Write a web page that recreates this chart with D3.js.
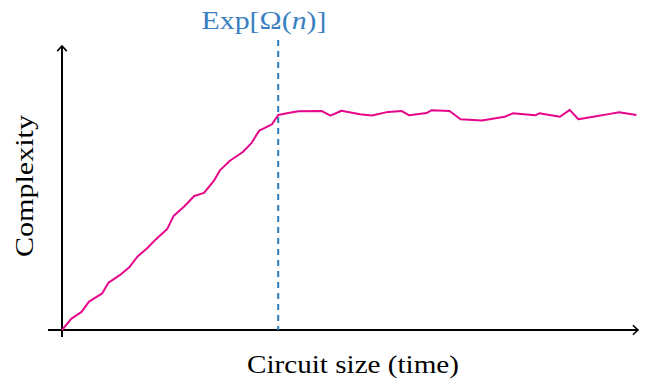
<!DOCTYPE html>
<html>
<head>
<meta charset="utf-8">
<script src="https://cdn.jsdelivr.net/npm/d3@7"></script>
<style>
  body { margin: 0; background: #fff; }
  text { font-family: "Liberation Serif", "DejaVu Serif", serif; }
</style>
</head>
<body>
<div id="chart"></div>
<script>
// circuit size (arbitrary units, 0..100) and complexity (0..100)
var sizes = [0, 1.6, 3.4, 4.7, 7.0, 8.1, 10.1, 11.8, 13.1, 14.8, 16.3, 18.3, 19.4, 21.2, 23.0, 24.7,
  26.5, 27.5, 29.2, 31.4, 32.9, 34.3, 36.5, 37.6, 39.1, 41.1, 45.2, 46.7, 48.6, 51.8, 53.9, 56.7,
  59.1, 60.4, 63.4, 64.3, 67.4, 69.3, 73.0, 77.0, 78.4, 82.3, 83.0, 86.6, 88.3, 89.8, 92.4, 95.3, 96.9, 99.9];
var complexity = [0, 3.9, 6.4, 10.0, 12.9, 16.7, 19.4, 22.3, 25.8, 28.8, 31.9, 35.6, 40.1, 43.4, 47.2, 48.3,
  52.8, 56.3, 59.6, 62.6, 65.7, 70.2, 72.4, 75.7, 76.3, 77.0, 77.1, 75.5, 77.2, 76.0, 75.5, 76.8,
  77.1, 75.6, 76.4, 77.4, 77.1, 74.2, 73.8, 75.1, 76.3, 75.6, 76.3, 75.1, 77.5, 74.2, 75.1, 76.1, 76.7, 75.7];
var saturation = 37.6;
var xLabel = "Circuit size (time)";
var yLabel = "Complexity";

var w = 646, h = 383;
var svg = d3.select("#chart").append("svg").attr("width", w).attr("height", h);

var x = d3.scaleLinear().domain([0, 100]).range([62, 637]);
var y = d3.scaleLinear().domain([0, 100]).range([330, 46]);

// axes with open arrow heads
function arrow(x1, y1, x2, y2) {
  svg.append("line")
    .attr("x1", x1).attr("y1", y1).attr("x2", x2).attr("y2", y2)
    .attr("stroke", "black").attr("stroke-width", 2);
  var a = Math.atan2(y2 - y1, x2 - x1), len = 7, sp = 0.75;
  var p = [
    [x2 - len * Math.cos(a - sp), y2 - len * Math.sin(a - sp)],
    [x2, y2],
    [x2 - len * Math.cos(a + sp), y2 - len * Math.sin(a + sp)]
  ];
  svg.append("path")
    .attr("d", d3.line()(p))
    .attr("fill", "none").attr("stroke", "black").attr("stroke-width", 1.6)
    .attr("stroke-linejoin", "miter");
}
arrow(48, y(0), x(100) + 1, y(0));
arrow(x(0), 337, x(0), y(100));

// saturation marker
svg.append("line")
  .attr("x1", x(saturation)).attr("x2", x(saturation))
  .attr("y1", 40).attr("y2", y(0))
  .attr("stroke", "#2a7ab9").attr("stroke-width", 2)
  .attr("stroke-dasharray", "6,5");

var lab = svg.append("text")
  .attr("x", 264).attr("y", 29)
  .attr("text-anchor", "middle")
  .attr("fill", "#3a7fc0")
  .attr("font-size", 25)
  .attr("textLength", 125)
  .attr("lengthAdjust", "spacingAndGlyphs");
lab.append("tspan").text("Exp[Ω(");
lab.append("tspan").attr("font-style", "italic").text("n");
lab.append("tspan").text(")]");

var pts = sizes.map(function(s, i) { return [s, complexity[i]]; });
svg.append("path")
  .datum(pts)
  .attr("d", d3.line().x(function(d) { return x(d[0]); }).y(function(d) { return y(d[1]); }))
  .attr("fill", "none")
  .attr("stroke", "#e6068a")
  .attr("stroke-width", 2)
  .attr("stroke-linejoin", "round");

svg.append("text")
  .attr("x", 353).attr("y", 373)
  .attr("text-anchor", "middle")
  .attr("font-size", 26)
  .attr("textLength", 212)
  .attr("lengthAdjust", "spacingAndGlyphs")
  .text(xLabel);

svg.append("text")
  .attr("transform", "translate(33,186) rotate(-90)")
  .attr("text-anchor", "middle")
  .attr("font-size", 26)
  .attr("textLength", 142)
  .attr("lengthAdjust", "spacingAndGlyphs")
  .text(yLabel);
</script>
</body>
</html>
